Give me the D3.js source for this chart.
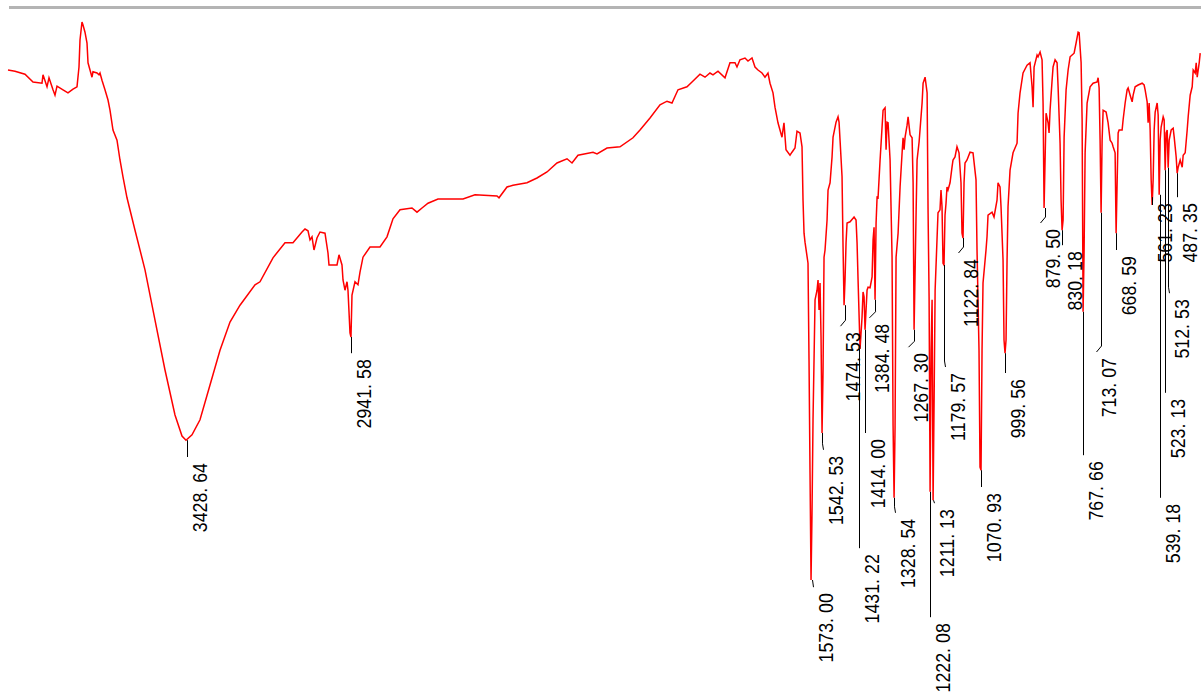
<!DOCTYPE html>
<html>
<head>
<meta charset="utf-8">
<script src="https://cdn.jsdelivr.net/npm/d3@7"></script>
<style>
  body { margin: 0; background: #fff; }
  svg { display: block; }
</style>
</head>
<body>
<div id="graph-location"></div>
<script>
var width = 1201,
    height = 693;

// spectrum, wavenumber (cm-1) and transmittance (%T)
var wavenumbers = [
  3960, 3939.2, 3909.5, 3885.7, 3859.0, 3856.0, 3844.1, 3838.2, 3826.3, 3820.4, 3814.4, 3796.6, 3781.8, 3766.9, 3755.0,
  3749.1, 3746.1, 3740.2, 3737.2, 3731.3, 3725.3, 3722.3, 3716.4, 3710.5, 3707.5, 3695.6, 3689.7, 3686.7, 3680.8, 3671.9,
  3662.9, 3657.0, 3648.1, 3636.2, 3627.3, 3618.4, 3606.5, 3582.7, 3553.0, 3523.3, 3493.6, 3463.9, 3443.1, 3431.2, 3413.4,
  3389.6, 3359.9, 3330.2, 3300.5, 3270.8, 3226.2, 3211.4, 3172.8, 3137.1, 3113.4, 3086.6, 3077.7, 3068.8, 3062.8, 3056.9,
  3051.0, 3042.1, 3033.1, 3018.3, 3009.4, 3006.4, 2982.6, 2976.7, 2967.8, 2964.8, 2958.9, 2952.9, 2950.0, 2944.0, 2941.1,
  2938.1, 2929.2, 2920.3, 2914.3, 2905.4, 2884.6, 2854.9, 2834.1, 2816.3, 2795.5, 2759.9, 2745.0, 2730.1, 2712.3, 2682.6,
  2646.9, 2608.3, 2572.7, 2507.3, 2501.4, 2477.6, 2459.8, 2418.2, 2388.5, 2358.8, 2329.1, 2299.4, 2284.5, 2266.7, 2222.1,
  2210.2, 2180.5, 2141.9, 2103.3, 2082.5, 2052.8, 2023.1, 2002.3, 1987.5, 1969.6, 1942.9, 1928.0, 1904.3, 1889.4, 1874.6,
  1865.7, 1850.8, 1830.0, 1815.2, 1800.3, 1794.4, 1785.5, 1770.6, 1761.7, 1749.8, 1740.9, 1732.0, 1720.1, 1711.2, 1702.3,
  1696.3, 1687.4, 1681.5, 1672.6, 1660.7, 1654.8, 1648.8, 1636.9, 1631.0, 1622.1, 1616.1, 1607.2, 1601.2, 1598.2, 1595.2,
  1592.3, 1583.4, 1580.4, 1577.4, 1574.4, 1571.5, 1568.5, 1562.5, 1556.6, 1553.6, 1550.6, 1547.7, 1544.7, 1541.7, 1538.7,
  1535.8, 1532.8, 1526.8, 1523.9, 1517.9, 1512.0, 1509.0, 1500.1, 1494.2, 1491.2, 1488.2, 1482.3, 1479.3, 1476.3, 1473.4,
  1470.4, 1467.4, 1458.5, 1449.6, 1446.6, 1440.7, 1437.7, 1434.7, 1428.8, 1422.9, 1419.9, 1416.9, 1413.9, 1408.0, 1405.0,
  1399.1, 1393.1, 1390.1, 1387.2, 1384.2, 1381.2, 1378.2, 1375.3, 1369.3, 1363.4, 1360.4, 1354.5, 1351.5, 1348.5, 1345.6,
  1339.6, 1333.7, 1330.7, 1327.7, 1324.8, 1321.8, 1315.8, 1309.9, 1303.9, 1301.0, 1298.0, 1295.0, 1289.1, 1286.1, 1280.2,
  1274.2, 1271.2, 1268.3, 1262.3, 1259.4, 1253.4, 1244.5, 1241.5, 1235.6, 1229.6, 1226.7, 1223.7, 1220.7, 1217.7, 1214.8,
  1211.8, 1208.8, 1205.8, 1197.2, 1191.3, 1188.3, 1185.3, 1182.3, 1179.4, 1176.4, 1173.4, 1170.5, 1167.5, 1161.5, 1155.6,
  1152.6, 1146.7, 1140.8, 1134.8, 1128.9, 1125.9, 1122.9, 1119.9, 1117.0, 1111.0, 1102.1, 1093.2, 1084.3, 1081.3, 1075.4,
  1072.4, 1069.4, 1066.4, 1063.5, 1054.6, 1051.6, 1048.6, 1036.7, 1030.8, 1021.9, 1018.9, 1013.0, 1010.0, 1004.0, 1001.1,
  998.1, 995.1, 992.1, 989.2, 983.2, 974.3, 962.4, 959.4, 953.5, 944.6, 932.7, 923.8, 917.8, 914.8, 911.8,
  902.9, 900.0, 894.0, 888.1, 885.1, 882.1, 876.2, 870.2, 867.3, 864.3, 858.3, 855.4, 849.4, 843.5, 840.5,
  834.6, 831.6, 828.6, 825.6, 822.6, 816.7, 810.7, 804.8, 798.9, 792.9, 787.0, 781.0, 778.0, 772.1, 769.1,
  766.2, 763.2, 760.2, 754.3, 745.4, 736.5, 724.6, 721.6, 718.6, 715.7, 712.7, 709.7, 706.7, 697.8, 691.9,
  685.9, 680.0, 677.0, 671.1, 668.1, 662.1, 659.2, 650.3, 647.3, 641.3, 635.4, 632.4, 626.4, 620.5, 617.5,
  611.6, 602.7, 590.8, 584.9, 581.9, 575.9, 573.0, 570.0, 567.0, 564.0, 561.1, 558.1, 555.1, 552.1, 546.2,
  543.2, 540.2, 537.3, 534.3, 528.3, 525.4, 522.4, 519.4, 516.4, 513.5, 510.5, 504.5, 498.6, 495.6, 492.7,
  489.7, 486.7, 483.7, 477.8, 471.8, 468.9, 462.9, 457.0, 454.0, 448.1, 442.1, 439.1, 433.2, 430.2, 427.2,
  421.3, 418.3
];

var transmittance = [
  90.0, 89.8, 89.3, 88.0, 87.8, 89.2, 87.2, 88.7, 86.7, 85.8, 87.3, 86.7, 86.2, 86.8, 87.2,
  90.5, 95.0, 98.0, 97.5, 96.3, 94.5, 91.2, 90.0, 88.8, 89.7, 89.5, 89.2, 89.5, 88.3, 86.7,
  85.0, 83.3, 80.0, 78.3, 75.0, 72.2, 68.7, 63.3, 56.7, 48.3, 40.0, 32.5, 29.0, 28.3, 29.2,
  31.7, 37.5, 43.3, 48.0, 50.8, 54.2, 54.7, 58.7, 61.2, 61.2, 63.0, 63.5, 63.2, 61.7, 62.2,
  60.0, 62.0, 63.0, 62.8, 59.5, 57.5, 57.5, 59.2, 57.5, 55.0, 53.3, 54.7, 53.3, 46.2, 45.5,
  52.5, 54.7, 54.2, 56.3, 58.8, 60.5, 60.5, 62.2, 65.2, 66.7, 67.0, 66.3, 67.0, 67.8, 68.5,
  68.5, 68.5, 69.2, 69.0, 68.7, 70.5, 70.8, 71.2, 72.0, 73.0, 74.5, 75.2, 74.5, 75.8, 76.3,
  76.0, 77.0, 77.2, 78.7, 80.0, 82.0, 84.2, 84.8, 84.5, 86.7, 87.2, 88.0, 89.3, 88.8, 89.5,
  89.2, 89.8, 88.7, 91.2, 91.2, 90.5, 91.7, 92.0, 91.5, 92.0, 90.5, 90.0, 89.5, 88.8, 89.5,
  87.8, 86.2, 83.8, 81.2, 78.8, 81.2, 76.7, 75.8, 76.3, 77.0, 79.8, 79.5, 77.2, 68.3, 62.8,
  61.3, 57.8, 41.7, 22.8, 5.0, 16.2, 31.7, 51.7, 53.3, 55.0, 50.0, 54.5, 45.5, 29.5, 40.0,
  58.8, 60.0, 65.0, 70.0, 71.2, 75.5, 78.8, 81.3, 82.2, 81.3, 78.3, 72.2, 60.5, 50.8, 55.0,
  61.2, 64.5, 64.7, 65.3, 65.5, 65.0, 61.2, 55.0, 43.5, 48.8, 53.0, 52.2, 46.7, 53.3, 53.8,
  53.7, 55.5, 61.7, 63.8, 51.7, 64.5, 68.8, 68.7, 75.0, 80.5, 83.3, 83.7, 76.7, 81.3, 81.2,
  75.0, 58.8, 30.8, 18.7, 30.5, 58.8, 62.8, 70.5, 76.2, 78.7, 76.7, 78.8, 80.8, 82.2, 79.2,
  78.7, 71.2, 46.7, 66.2, 75.0, 78.0, 84.5, 87.8, 88.8, 86.2, 66.2, 52.2, 19.7, 43.3, 51.7,
  18.3, 35.0, 53.3, 66.2, 66.7, 70.0, 67.2, 57.8, 57.5, 65.8, 67.8, 70.5, 70.0, 71.2, 73.8,
  75.0, 75.5, 77.2, 76.2, 71.2, 62.8, 62.0, 71.2, 74.5, 75.0, 76.3, 76.2, 71.7, 60.0, 43.3,
  23.8, 23.3, 43.3, 54.5, 60.0, 62.2, 65.8, 66.3, 65.5, 68.3, 71.2, 70.5, 67.2, 58.3, 45.0,
  42.8, 45.0, 58.3, 67.2, 73.3, 76.2, 77.8, 82.8, 86.2, 89.5, 90.8, 91.2, 87.2, 83.8, 90.5,
  92.5, 92.2, 93.0, 91.7, 84.5, 67.0, 82.8, 81.2, 79.5, 83.3, 88.3, 90.5, 91.7, 91.2, 87.2,
  77.8, 68.3, 63.3, 65.0, 78.8, 86.7, 90.0, 92.2, 92.5, 92.8, 94.5, 96.3, 96.2, 91.2, 81.7,
  49.7, 60.0, 76.2, 84.5, 87.2, 87.8, 88.0, 88.7, 87.0, 78.3, 66.2, 78.3, 83.3, 83.0, 81.2,
  78.3, 77.8, 77.2, 76.2, 62.8, 79.5, 80.0, 80.0, 81.7, 84.5, 86.7, 87.0, 85.8, 84.7, 85.8,
  87.2, 87.5, 87.8, 87.5, 86.7, 84.7, 81.2, 84.5, 80.0, 71.7, 67.5, 71.7, 80.0, 83.0, 84.5,
  82.5, 69.2, 78.3, 80.5, 82.2, 81.7, 73.3, 79.5, 80.0, 73.7, 78.3, 80.0, 80.3, 78.8, 77.2,
  75.5, 72.8, 73.8, 75.0, 73.8, 75.8, 76.2, 80.0, 82.2, 85.8, 87.2, 90.0, 89.5, 91.2, 88.8,
  91.2, 92.8
];

// labelled peaks
var peakPositions = [3428.64, 2941.58, 1573.00, 1542.53, 1474.53, 1431.22, 1414.00, 1384.48, 1328.54, 1267.30,
  1222.08, 1211.13, 1179.57, 1122.84, 1070.93, 999.56, 879.50, 830.18, 767.66, 713.07,
  668.59, 561.23, 539.18, 523.13, 512.53, 487.35];
var peakT = [28.3, 45.5, 5.0, 29.5, 50.8, 43.5, 46.7, 51.7, 18.7, 46.7,
  19.7, 18.3, 57.5, 62.0, 23.3, 42.8, 67.0, 63.3, 49.7, 66.2,
  62.8, 67.5, 69.2, 73.3, 73.7, 72.8];
// where each leader line stops (in %T)
var leaderEndT = [25.5, 42.8, 3.8, 26.7, 47.3, 10.3, 29.5, 48.7, 16.2, 43.8,
  -1.2, 17.8, 40.5, 59.5, 20.5, 39.5, 64.5, 60.8, 25.8, 43.0,
  60.0, 68.8, 18.7, 36.2, 52.8, 68.8];
// sideways kink at the bottom of some leaders (px)
var leaderKink = [0, 0, 1, 1, -5, 0, 0, -6, 1, -6,
  0, 1, 1, -5, 0, 0, -5, 0, 0, -5,
  0, 0, 0, 0, 1, 0];

var spectrum = wavenumbers.map(function(w, i){
    return {w: w, t: transmittance[i]};
});

var peaks = peakPositions.map(function(p, i){
    return {w: p, t: peakT[i], end: leaderEndT[i], kink: leaderKink[i]};
});

var x = d3.scaleLinear()
    .domain([3960, 410])
    .range([8, 1203]);

var y = d3.scaleLinear()
    .domain([0, 100])
    .range([610, 10]);

var svg = d3.select("#graph-location")
    .append("svg")
    .attr("width", width)
    .attr("height", height);

svg.append("rect")
    .attr("width", width)
    .attr("height", height)
    .attr("fill", "#fff");

//top frame line
svg.append("line")
    .attr("x1", 9)
    .attr("x2", width)
    .attr("y1", 7.5)
    .attr("y2", 7.5)
    .attr("stroke", "#b4b4b4")
    .attr("stroke-width", 3);

//spectrum trace
var line = d3.line()
    .x(function(d){ return x(d.w); })
    .y(function(d){ return y(d.t); });

svg.append("path")
    .datum(spectrum)
    .attr("fill", "none")
    .attr("stroke", "#ff0000")
    .attr("stroke-width", 1.5)
    .attr("stroke-linejoin", "miter")
    .attr("d", line);

//leader lines
svg.append("g")
    .selectAll("path")
    .data(peaks)
    .join("path")
    .attr("fill", "none")
    .attr("stroke", "#000")
    .attr("stroke-width", 1)
    .attr("d", function(d){
        var px = Math.round(x(d.w)) + 0.5,
            top = y(d.t),
            bottom = y(d.end);
        if (d.kink === 0 || bottom - top < 8) {
            return "M" + px + "," + top + "L" + (px + d.kink) + "," + bottom;
        }
        return "M" + px + "," + top + "L" + px + "," + (bottom - 6) + "L" + (px + d.kink) + "," + bottom;
    });

//peak labels
svg.append("g")
    .selectAll("text")
    .data(peaks)
    .join("text")
    .attr("font-family", "'Liberation Sans', Arial, sans-serif")
    .attr("font-size", 20)
    .attr("fill", "#000")
    .attr("text-anchor", "end")
    .attr("transform", function(d){
        var bx = Math.round(x(d.w)) + d.kink + 19.5,
            ty = y(d.end) + 6;
        return "translate(" + bx + "," + ty + ") rotate(-90) scale(0.89,1)";
    })
    .text(function(d){ return d3.format(".2f")(d.w).replace(".", ". "); });
</script>
</body>
</html>
